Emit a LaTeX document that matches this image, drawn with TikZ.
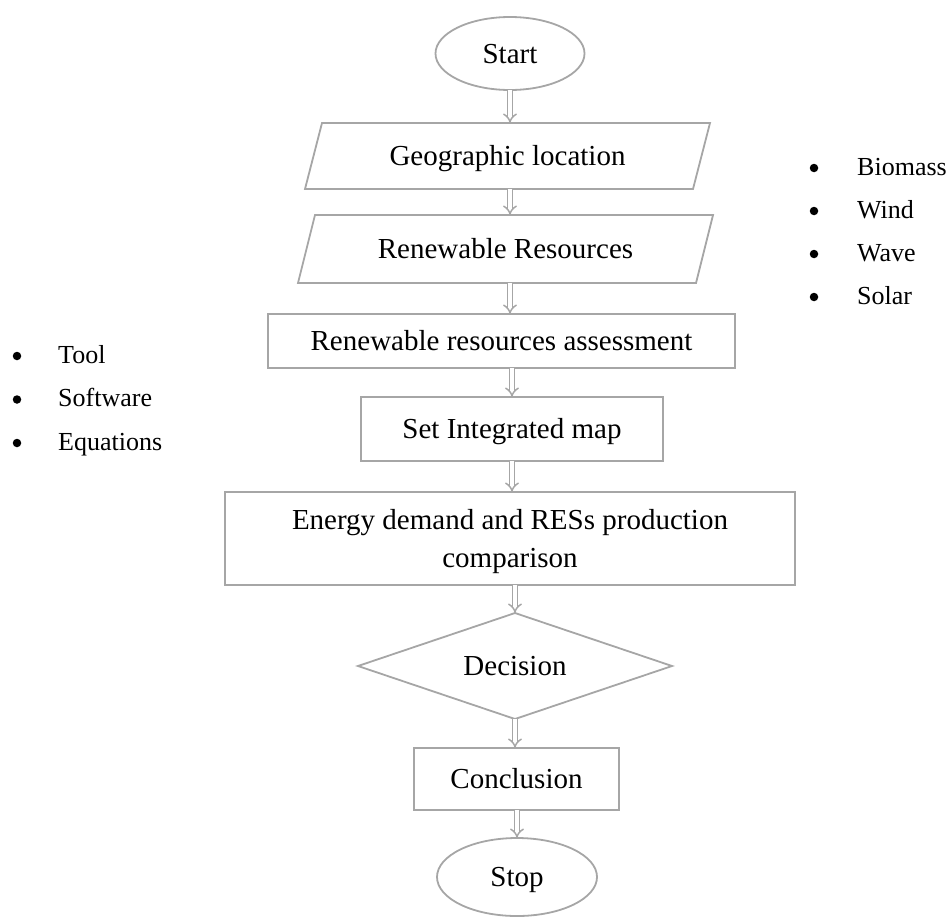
\documentclass[tikz,border=0pt]{standalone}
\usepackage{fontspec}
\setmainfont{Liberation Serif}
\usetikzlibrary{shapes.geometric,arrows.meta}
\definecolor{lg}{HTML}{A6A6A6}
\tikzset{
  shp/.style={draw=lg, line width=1.8pt, inner sep=0pt, outer sep=0pt,
    font=\fontsize{29}{35}\selectfont, text height=19pt, text depth=0pt},
  oval/.style={shp, ellipse},
  box/.style={shp, rectangle},
  dia/.style={shp, diamond, aspect=3},
  io/.style={shp, draw=none, rectangle},
  edgeline/.style={draw=lg, line width=1.8pt, line join=miter},
  arr/.style={draw=lg, line width=1.5pt, double=white, double distance=3.2pt, -{Implies[length=7pt,width=13pt]}},
  bultxt/.style={font=\fontsize{26}{30}\selectfont, anchor=base west, inner sep=0pt},
  buldot/.style={circle, fill=black, draw=none, inner sep=0pt, minimum size=8.5pt},
}
\begin{document}
\begin{tikzpicture}[x=1pt,y=-1pt]
\useasboundingbox (0,0) rectangle (949,918);
\node[oval, minimum width=149pt, minimum height=73pt] (start) at (510,53.5) {Start};
\node[io, minimum width=388pt, minimum height=66pt] (geo) at (507.5,156) {Geographic location};
\draw[edgeline] ([xshift=8.5pt]geo.north west) -- ([xshift=8.5pt]geo.north east)
  -- ([xshift=-8.5pt]geo.south east) -- ([xshift=-8.5pt]geo.south west) -- cycle;
\node[io, minimum width=398pt, minimum height=68pt] (rr) at (505.5,249) {Renewable Resources};
\draw[edgeline] ([xshift=8.5pt]rr.north west) -- ([xshift=8.5pt]rr.north east)
  -- ([xshift=-8.5pt]rr.south east) -- ([xshift=-8.5pt]rr.south west) -- cycle;
\node[box, minimum width=467pt, minimum height=54pt] (assess) at (501.5,341) {Renewable resources assessment};
\node[box, minimum width=570pt, minimum height=93pt, align=center, font=\fontsize{29}{38}\selectfont, text height=57pt, text depth=0pt] (energy) at (510,538.5) {Energy demand and RESs production\\comparison};
\node[box, minimum width=302pt, minimum height=64pt] (sim) at (512,429) {Set Integrated map};
\node[dia, minimum width=314pt, minimum height=106pt] (decision) at (515,666) {Decision};
\node[box, minimum width=205pt, minimum height=62pt] (concl) at (516.5,779) {Conclusion};
\node[oval, minimum width=160pt, minimum height=78pt] (stop) at (517,877) {Stop};

\draw[arr] (start.south) -- (start.south |- geo.north);
\draw[arr] (geo.south -| start) -- (rr.north -| start);
\draw[arr] (rr.south -| start) -- (assess.north -| start);
\draw[arr] (assess.south -| sim) -- (sim.north);
\draw[arr] (sim.south) -- (energy.north -| sim);
\draw[arr] (energy.south -| decision) -- (decision.north);
\draw[arr] (decision.south) -- (concl.north -| decision);
\draw[arr] (concl.south -| stop) -- (stop.north);

\node[buldot] (d1) at (814,168) {};
\node[bultxt] (t1) at (857,175) {Biomass};
\node[buldot] (d2) at (814,211) {};
\node[bultxt] (t2) at (857,218) {Wind};
\node[buldot] (d3) at (814,254) {};
\node[bultxt] (t3) at (857,261) {Wave};
\node[buldot] (d4) at (814,297) {};
\node[bultxt] (t4) at (857,304) {Solar};

\node[buldot] (l1) at (17,356) {};
\node[bultxt] (u1) at (58,363) {Tool};
\node[buldot] (l2) at (17,399.5) {};
\node[bultxt] (u2) at (58,406.5) {Software};
\node[buldot] (l3) at (17,443) {};
\node[bultxt] (u3) at (58,450) {Equations};
\end{tikzpicture}
\end{document}
